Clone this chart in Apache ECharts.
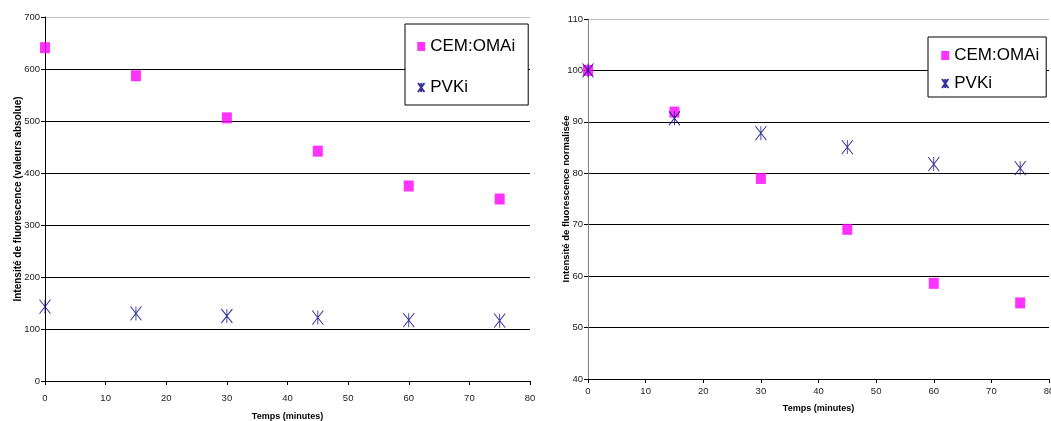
<!DOCTYPE html>
<html>
<head>
<meta charset="utf-8">
<script src="https://cdn.jsdelivr.net/npm/echarts@6/dist/echarts.min.js"></script>
<style>html,body{margin:0;padding:0;background:#fff}#c{width:1051px;height:421px}</style>
</head>
<body>
<div id="c"></div>
<script>
const times = [0, 15, 30, 45, 60, 75];
const cemAbs = [641, 587, 506, 442, 375, 350];
const pvkAbs = [143, 130, 125, 122, 117, 116];
const cemNorm = [100, 91.9, 79, 69.1, 58.6, 54.8];
const pvkNorm = [100, 90.7, 87.8, 85.1, 81.8, 81];
const xTitle = 'Temps (minutes)';
const yTitleAbs = 'Intensité de fluorescence (valeurs absolue)';
const yTitleNorm = 'Intensité de fluorescence normalisée';
const nameCem = 'CEM:OMAi';
const namePvk = 'PVKi';

const pair = (xs, ys) => xs.map((x, i) => [x, ys[i]]);
const star = 'path://M0,0L10,14M10,0L0,14M5,0L5,14';
const gridColors = ['#000', '#000', '#000', '#000', '#000', '#000', '#000', '#c0c0c0'];
const lbl = {fontFamily: 'Liberation Sans, Arial', fontSize: 9.5, color: '#222'};

function xAxis(gi, gap, margin) {
  return {
    type: 'value', gridIndex: gi, min: 0, max: 80, interval: 10,
    name: xTitle, nameLocation: 'middle', nameGap: gap, nameMoveOverlap: false,
    nameTextStyle: {fontFamily: 'Liberation Sans, Arial', fontSize: 9, fontWeight: 'bold', color: '#000'},
    axisLine: {lineStyle: {color: '#000', width: 1}},
    axisTick: {show: true, inside: false, length: 4, lineStyle: {color: '#000'}},
    axisLabel: Object.assign({margin: margin}, lbl),
    splitLine: {show: false}
  };
}
function yAxis(gi, min, max, interval, title, gap, fs, axisColor) {
  return {
    type: 'value', gridIndex: gi, min: min, max: max, interval: interval,
    name: title, nameLocation: 'middle', nameGap: gap, nameRotate: 90, nameMoveOverlap: false,
    nameTextStyle: {fontFamily: 'Liberation Sans, Arial', fontSize: fs, fontWeight: 'bold', color: '#000'},
    axisLine: {show: true, lineStyle: {color: axisColor, width: 1}},
    axisTick: {show: true, inside: false, length: 4, lineStyle: {color: '#000'}},
    axisLabel: Object.assign({margin: 5}, lbl),
    splitLine: {show: true, lineStyle: {color: gridColors, width: 1}}
  };
}
function cemSeries(xi, data) {
  return {name: nameCem, type: 'scatter', xAxisIndex: xi, yAxisIndex: xi, data: data,
    symbol: 'rect', symbolSize: [10, 11], itemStyle: {color: '#ff00ff'}, z: 3};
}
function pvkSeries(xi, data) {
  return {name: namePvk, type: 'scatter', xAxisIndex: xi, yAxisIndex: xi, data: data,
    symbol: star, symbolSize: [11, 14],
    itemStyle: {color: 'rgba(0,0,0,0)', borderColor: '#000080', borderWidth: 1}, z: 4};
}
function legend(left, top, gap, padding) {
  return {
    left: left, top: top, orient: 'vertical', itemGap: gap, padding: padding,
    itemWidth: 8, itemHeight: 9, selectedMode: false,
    backgroundColor: '#fff', borderColor: '#000', borderWidth: 1,
    textStyle: {fontFamily: 'Liberation Sans, Arial', fontSize: 17, color: '#000'},
    data: [nameCem, namePvk]
  };
}

const chart = echarts.init(document.getElementById('c'), null, {renderer: 'canvas'});
chart.setOption({
  animation: false,
  backgroundColor: '#fff',
  grid: [
    {left: 45, right: 521, top: 17, bottom: 40, outerBoundsMode: 'none', containLabel: false},
    {left: 588, right: 2, top: 19, bottom: 42, outerBoundsMode: 'none', containLabel: false}
  ],
  xAxis: [xAxis(0, 31, 12), xAxis(1, 25, 7)],
  yAxis: [
    yAxis(0, 0, 700, 100, yTitleAbs, 22, 10, '#000'),
    yAxis(1, 40, 110, 10, yTitleNorm, 17, 9.5, '#808080')
  ],
  legend: [
    legend(405, 24, 24, [14, 13, 9, 12]),
    legend(928, 37, 11, [10, 7, 5, 13])
  ],
  series: [
    cemSeries(0, pair(times, cemAbs)),
    pvkSeries(0, pair(times, pvkAbs)),
    cemSeries(1, pair(times, cemNorm)),
    pvkSeries(1, pair(times, pvkNorm))
  ]
});
</script>
</body>
</html>
